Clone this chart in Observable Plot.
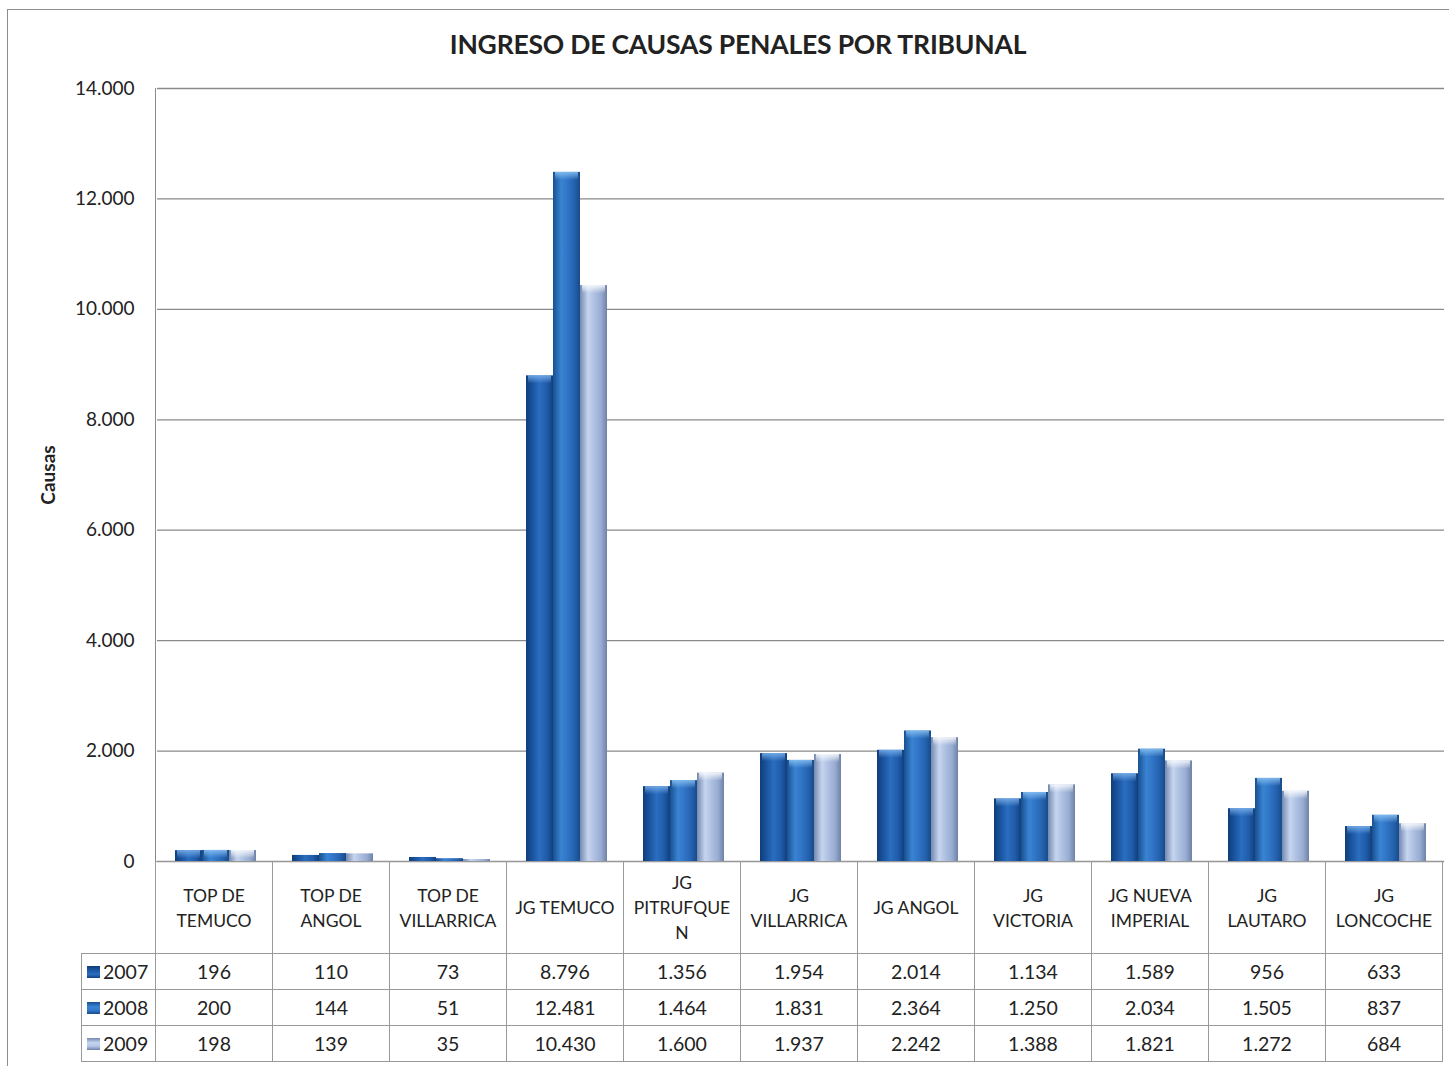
<!DOCTYPE html>
<html><head><meta charset="utf-8">
<script src="https://cdn.jsdelivr.net/npm/d3@7"></script>
<script src="https://cdn.jsdelivr.net/npm/@observablehq/plot@0.6"></script>
<style>
body{margin:0;background:#fff;font-family:Lato,"Open Sans",sans-serif;color:#222;}
#wrap{position:relative;width:1449px;height:1066px;overflow:hidden;background:#fff;}
#frame{position:absolute;left:7px;top:9px;width:1480px;height:1100px;border:1.5px solid #8c8c8c;box-sizing:border-box;}
#title{position:absolute;left:0;top:28px;width:1476px;text-align:center;font-weight:bold;font-size:26.5px;letter-spacing:-0.2px;}
#ylabel{position:absolute;left:47px;top:475px;transform:translate(-50%,-50%) rotate(-90deg);font-weight:bold;font-size:19px;white-space:nowrap;}
#chart{position:absolute;left:0;top:0;}
#vline{position:absolute;left:154.5px;top:88px;width:0;height:773px;border-left:1.3px solid #8a8a8a;}
#tbl{position:absolute;left:81px;top:861px;border-collapse:collapse;table-layout:fixed;font-size:19.5px;}
#tbl td{border:1.3px solid #999;text-align:center;padding:0;white-space:pre-line;line-height:25px;}
#tbl tr.head td{font-size:17.5px;}
#tbl td.lab{text-align:left;padding-left:5px;}
.key{display:inline-block;width:13px;height:12px;margin-right:3px;vertical-align:1px;}
</style></head><body>
<div id="wrap">
<div id="frame"></div>
<div id="chart"></div>
<div id="vline"></div>
<div id="title">INGRESO DE CAUSAS PENALES POR TRIBUNAL</div>
<div id="ylabel">Causas</div>
<table id="tbl"></table>
</div>
<script>
const categories = ["TOP DE TEMUCO","TOP DE ANGOL","TOP DE VILLARRICA","JG TEMUCO","JG PITRUFQUEN","JG VILLARRICA","JG ANGOL","JG VICTORIA","JG NUEVA IMPERIAL","JG LAUTARO","JG LONCOCHE"];
const categoryLabels = ["TOP DE\nTEMUCO","TOP DE\nANGOL","TOP DE\nVILLARRICA","JG TEMUCO","JG\nPITRUFQUE\nN","JG\nVILLARRICA","JG ANGOL","JG\nVICTORIA","JG NUEVA\nIMPERIAL","JG\nLAUTARO","JG\nLONCOCHE"];
const years = ["2007","2008","2009"];
const v2007 = [196,110,73,8796,1356,1954,2014,1134,1589,956,633];
const v2008 = [200,144,51,12481,1464,1831,2364,1250,2034,1505,837];
const v2009 = [198,139,35,10430,1600,1937,2242,1388,1821,1272,684];
const yTicks = [0,2000,4000,6000,8000,10000,12000,14000];
const yearColors = [
  ["#0f3d79","#1d5aa8","#2b6dbf","#1f5caa","#123f7c"],
  ["#17508f","#3a83d3","#3277c9","#2563b0","#184b89"],
  ["#7489b0","#c6d5ef","#b1c3e4","#98acd2","#6e82a8"]
];
const capColors = ["#7db3ee","#8cc4f5","#ffffff"];

const series = [v2007, v2008, v2009];
const rows = categories.flatMap((c, i) => years.map((y, j) => ({cat: c, year: y, value: series[j][i]})));
const fmt = d3.formatLocale({decimal: ",", thousands: ".", grouping: [3], currency: ["$", ""]}).format(",d");

const plot = Plot.plot({
  width: 1449, height: 870,
  marginLeft: 155, marginRight: 3, marginTop: 88, marginBottom: 9,
  style: {fontFamily: "Lato, sans-serif", fontSize: "19px", color: "#222", background: "transparent", overflow: "visible"},
  fx: {domain: categories, padding: 0, axis: null, label: null},
  x: {domain: years, paddingInner: 0, paddingOuter: 0.61, axis: null, label: null},
  y: {domain: [0, 14000], ticks: yTicks, tickFormat: fmt, tickSize: 0, tickPadding: 23, label: null},
  color: {type: "identity"},
  marks: [
    Plot.ruleY(yTicks, {stroke: "#8a8a8a", strokeWidth: 1.3, strokeOpacity: 1}),
    ...years.map((yr, j) => Plot.barY(rows.filter(d => d.year === yr), {
      fx: "cat", x: "year", y: "value", fill: () => `url(#grad${j})`
    })),
    ...years.map((yr, j) => Plot.barY(rows.filter(d => d.year === yr && d.value > 150), {
      fx: "cat", x: "year", y1: "value", y2: "value", insetBottom: -8, insetLeft: 2, insetRight: 2,
      fill: () => `url(#cap${j})`
    }))
  ]
});
document.getElementById("chart").appendChild(plot);

const svg = d3.select(plot.tagName.toLowerCase() === "svg" ? plot : plot.querySelector("svg"));
const defs = svg.insert("defs", ":first-child");
yearColors.forEach((cols, j) => {
  const g = defs.append("linearGradient").attr("id", `grad${j}`).attr("x1", 0).attr("x2", 1).attr("y1", 0).attr("y2", 0);
  const offs = [0, 0.3, 0.5, 0.78, 1];
  cols.forEach((c, k) => g.append("stop").attr("offset", offs[k]).attr("stop-color", c));
  const cg = defs.append("linearGradient").attr("id", `cap${j}`).attr("x1", 0).attr("x2", 0).attr("y1", 0).attr("y2", 1);
  cg.append("stop").attr("offset", 0).attr("stop-color", capColors[j]).attr("stop-opacity", 0.85);
  cg.append("stop").attr("offset", 1).attr("stop-color", capColors[j]).attr("stop-opacity", 0);
});

// data table aligned to the fx scale
const fx = plot.scale("fx");
const bw = (fx && fx.bandwidth) ? fx.bandwidth : (1446 - 155) / categories.length;
const tbl = d3.select("#tbl");
const colg = tbl.append("colgroup");
colg.append("col").style("width", (155 - 81) + "px");
categories.forEach(() => colg.append("col").style("width", bw + "px"));
tbl.style("width", (155 - 81 + bw * categories.length) + "px");
const head = tbl.append("tr").attr("class", "head").style("height", "92px");
head.append("td").style("border-top", "none").style("border-left", "none");
categoryLabels.forEach(l => head.append("td").text(l));
years.forEach((yr, j) => {
  const tr = tbl.append("tr").style("height", "36px");
  const c = yearColors[j];
  tr.append("td").attr("class", "lab")
    .html(`<span class="key" style="background:linear-gradient(to bottom, ${c[0]} 0%, ${c[1]} 40%, ${c[2]} 70%, ${c[4]} 100%)"></span>${yr}`);
  series[j].forEach(v => tr.append("td").text(fmt(v)));
});
</script>
</body></html>
